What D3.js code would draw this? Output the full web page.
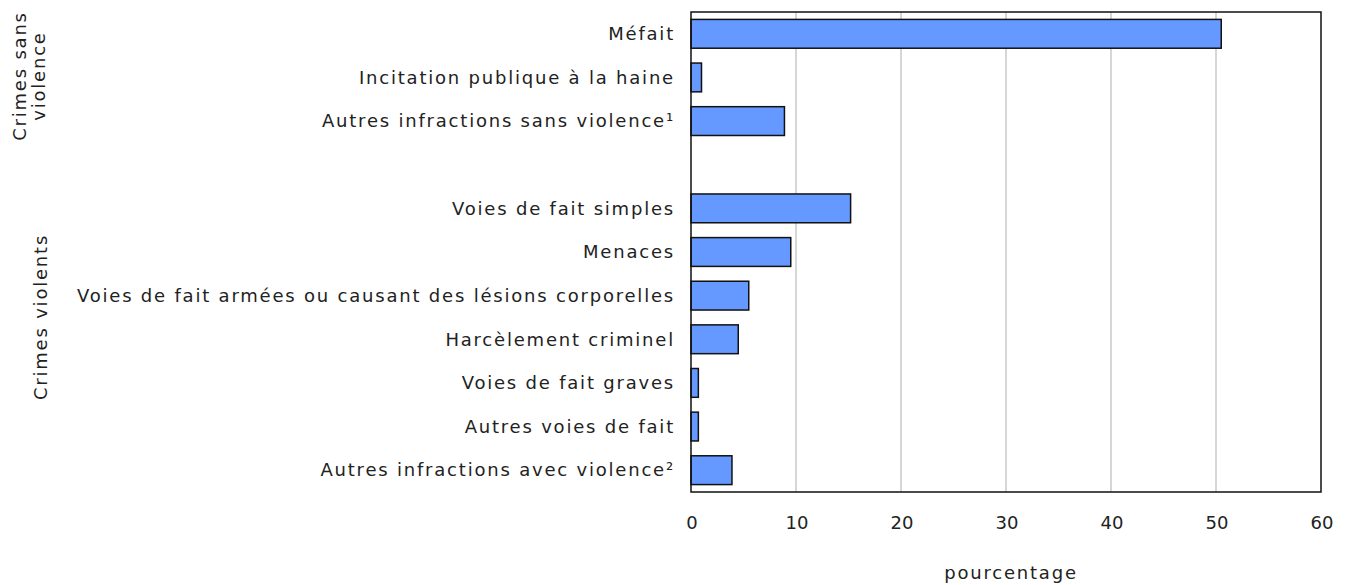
<!DOCTYPE html>
<html><head><meta charset="utf-8">
<script src="https://cdn.jsdelivr.net/npm/d3@7"></script>
<style>body{margin:0;background:#fff}</style>
</head><body>
<svg id="c" width="1347" height="585"></svg>
<script>
const categories = ["Méfait","Incitation publique à la haine","Autres infractions sans violence\u00b9","",
  "Voies de fait simples","Menaces ","Voies de fait armées ou causant des lésions corporelles",
  "Harcèlement criminel","Voies de fait graves","Autres voies de fait","Autres infractions avec violence\u00b2"];
const values = [50.5,1.0,8.9,null,15.2,9.5,5.5,4.5,0.7,0.7,3.9];
const xTicks = [0,10,20,30,40,50,60];
const xTitle = "pourcentage";
const groups = [{lines:["Crimes sans","violence"], y:76},{lines:["Crimes violents"], y:317}];

const FONT = "'DejaVu Sans', Verdana, sans-serif";
const FS = 18;
const svg = d3.select("#c");
const L=691,R=1321,T=12,B=492;
const x = d3.scaleLinear().domain([0,60]).range([L,R]);
const y = d3.scaleBand().domain(d3.range(categories.length)).range([T,B]).paddingInner(0.34).paddingOuter(0.17);

const probe = svg.append("text").attr("font-family",FONT).attr("font-size",FS).text(categories[6]);
const w0 = probe.node().getComputedTextLength();
probe.remove();
const LS = Math.max(0,(598 - w0)/categories[6].length);

function txt(sel,ls){ return sel.attr("font-family",FONT).attr("font-size",FS).attr("fill","#222").attr("letter-spacing",ls==null?LS:ls); }

svg.append("g").selectAll("line").data(xTicks.slice(1,-1)).join("line")
  .attr("x1",d=>x(d)).attr("x2",d=>x(d)).attr("y1",T).attr("y2",B)
  .attr("stroke","#c8c8c8").attr("stroke-width",1.5);

svg.append("g").selectAll("rect").data(values.map((v,i)=>({v,i})).filter(d=>d.v!=null)).join("rect")
  .attr("x",x(0)).attr("y",d=>y(d.i)).attr("width",d=>x(d.v)-x(0)).attr("height",y.bandwidth())
  .attr("fill","#6699ff").attr("stroke","#111").attr("stroke-width",1.5);

svg.append("rect").attr("x",L).attr("y",T).attr("width",R-L).attr("height",B-T)
  .attr("fill","none").attr("stroke","#111").attr("stroke-width",1.5);

txt(svg.append("g").selectAll("text").data(categories).join("text"))
  .attr("x",L-16).attr("y",(d,i)=>y(i)+y.bandwidth()/2).attr("dy","0.35em")
  .attr("text-anchor","end").text(d=>d);

txt(svg.append("g").selectAll("text").data(xTicks).join("text"),0)
  .attr("x",d=>x(d)+1).attr("y",529).attr("text-anchor","middle").text(d=>d);

txt(svg.append("text")).attr("x",1011).attr("y",579).attr("text-anchor","middle").text(xTitle);

groups.forEach(g=>{
  const n=g.lines.length;
  g.lines.forEach((ln,k)=>{
    const xx = n===1 ? 47 : 26+k*19;
    txt(svg.append("text")).attr("transform",`translate(${xx},${g.y}) rotate(-90)`)
      .attr("text-anchor","middle").text(ln);
  });
});
</script></body></html>
